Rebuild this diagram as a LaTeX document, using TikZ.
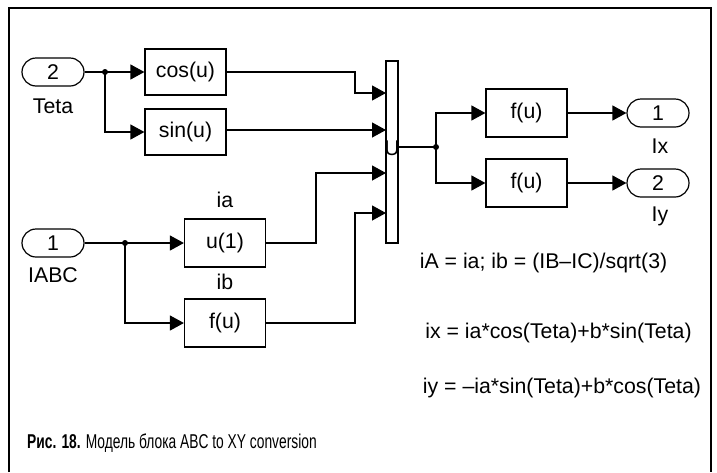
\documentclass[tikz,border=0pt]{standalone}
\usepackage{fontspec}
\setmainfont{Liberation Sans}
\newfontfamily\capfont[FakeStretch=0.69]{Liberation Sans}
\usetikzlibrary{arrows.meta}
\begin{document}
\begin{tikzpicture}[x=1pt,y=-1pt,
  every node/.style={font=\fontsize{21.3}{23}\selectfont},
  port/.style={draw, rounded corners=14pt, minimum width=62pt, minimum height=28pt, inner sep=0pt, line width=1.2pt},
  blk/.style={draw, minimum width=81pt, minimum height=46pt, inner sep=0pt, line width=1.2pt},
  wire/.style={line width=1.2pt},
  arr/.style={wire, -{Triangle[length=14pt,width=15pt]}},
  dot/.style={circle, fill, inner sep=0pt, minimum size=6pt},
  lbl/.style={inner sep=0pt, anchor=center}]
\useasboundingbox (0,0) rectangle (717,472);
% frame
\draw[line width=1.2pt] (9,472) -- (9,8) -- (711,8) -- (711,472);

% ports
\node[port] (in2) at (53,72) {2};
\node[lbl] (teta) at (53,106) {Teta};
\node[port] (in1) at (53,243) {1};
\node[lbl] (iabc) at (53,275) {IABC};

% blocks
\node[blk] (cos) at (185.5,72) {cos(u)};
\node[blk] (sin) at (185.5,132) {sin(u)};
\node[blk, minimum height=48pt] (u1) at (225,243) {u(1)};
\node[lbl] (ia) at (225,200) {ia};
\node[blk, minimum height=48pt] (fb) at (225,323) {f(u)};
\node[lbl] (ib) at (225,282) {ib};

% mux
\node[draw, line width=1.2pt, minimum width=12pt, minimum height=182pt, inner sep=0pt] (mux) at (392,152) {};
\node[lbl] (U) at (392,148) {U};
\coordinate (m1) at (386,93);
\coordinate (m2) at (386,130);
\coordinate (m3) at (386,173);
\coordinate (m4) at (386,213);
\coordinate (mo) at (398,147);

% output blocks
\node[blk, minimum height=48pt] (fx) at (526.5,113) {f(u)};
\node[blk, minimum height=48pt] (fy) at (526.5,183) {f(u)};
\node[port] (out1) at (658,113) {1};
\node[lbl] (ix) at (660,146) {Ix};
\node[port] (out2) at (658,183) {2};
\node[lbl] (iy) at (660,216) {Iy};

% dots
\node[dot] (d1) at (105,72) {};
\node[dot] (d2) at (125,243) {};
\node[dot] (d3) at (436,147) {};

% wires
\draw[arr] (in2.east) -- (cos.west);
\draw[arr] (d1.center) |- (sin.west);
\draw[arr] (in1.east) -- (u1.west);
\draw[arr] (d2.center) |- (fb.west);
\draw[arr] (cos.east) -- (355,72) |- (m1);
\draw[arr] (sin.east |- m2) -- (m2);
\draw[arr] (u1.east) -- (316,243) |- (m3);
\draw[arr] (fb.east) -- (355,323) |- (m4);
\draw[wire] (mo) -- (d3.center);
\draw[arr] (d3.center) |- (fx.west);
\draw[arr] (d3.center) |- (fy.west);
\draw[arr] (fx.east) -- (out1.west);
\draw[arr] (fy.east) -- (out2.west);

% formulas
\node[lbl] (f1) at (543.5,263) {iA = ia; ib = (IB–IC)/sqrt(3)};
\node[lbl] (f2) at (558.5,333) {ix = ia*cos(Teta)+b*sin(Teta)};
\node[lbl] (f3) at (562,388) {iy = –ia*sin(Teta)+b*cos(Teta)};

% caption
\node[anchor=west, inner sep=0pt, font=\capfont\fontsize{20}{22}\selectfont] (cap) at (27,443) {\textbf{Рис. 18.} Модель блока ABC to XY conversion};
\end{tikzpicture}
\end{document}
